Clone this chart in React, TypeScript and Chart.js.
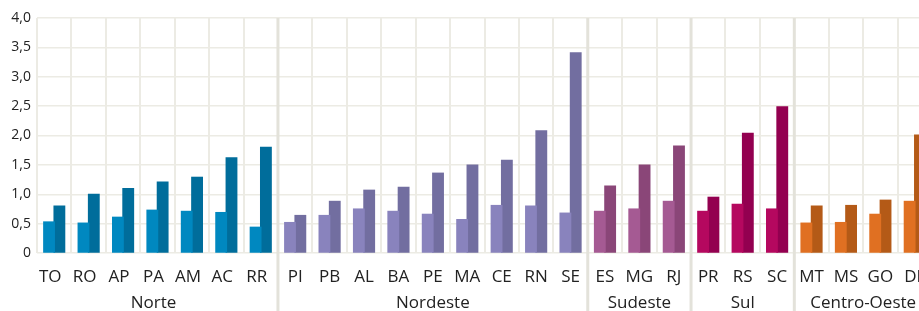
import React, { useEffect, useRef } from "react";
import { Chart, registerables } from "chart.js";

Chart.register(...registerables);

const states = ["TO", "RO", "AP", "PA", "AM", "AC", "RR", "PI", "PB", "AL", "BA", "PE", "MA", "CE", "RN", "SE", "ES", "MG", "RJ", "PR", "RS", "SC", "MT", "MS", "GO", "DF"];
const regions = ["Norte", "Nordeste", "Sudeste", "Sul", "Centro-Oeste"];
const regionSizes = [7, 9, 3, 3, 4];
const seriesA = [0.53, 0.51, 0.61, 0.73, 0.71, 0.69, 0.44, 0.52, 0.64, 0.75, 0.71, 0.66, 0.57, 0.81, 0.8, 0.68, 0.71, 0.75, 0.88, 0.71, 0.83, 0.75, 0.51, 0.52, 0.66, 0.88];
const seriesB = [0.8, 1.0, 1.1, 1.21, 1.29, 1.62, 1.8, 0.64, 0.88, 1.07, 1.12, 1.36, 1.5, 1.58, 2.08, 3.41, 1.14, 1.5, 1.82, 0.95, 2.04, 2.49, 0.8, 0.81, 0.9, 2.01];
const lightColors = ["#0088c0", "#8983bd", "#a55a93", "#b5085f", "#e07022"];
const darkColors = ["#006d9b", "#726ea0", "#8a4678", "#930050", "#b45a17"];
const yTicks = [0, 0.5, 1, 1.5, 2, 2.5, 3, 3.5, 4];
const regionLabelOffsets = [-4, 0, 0, 0, 0];

const regionIndex: number[] = [];
regionSizes.forEach((n, r) => {
  for (let i = 0; i < n; i++) regionIndex.push(r);
});

const FONT = '"Open Sans", "Noto Sans", sans-serif';
const TEXT = "#222222";
const GRID = "#ecebe4";
const SEP = "#e3e2da";

const groupPlugin = {
  id: "groups",
  beforeDatasetsDraw(chart: any) {
    const { ctx, chartArea } = chart;
    const x = chart.scales.x;
    ctx.save();
    ctx.strokeStyle = SEP;
    ctx.lineWidth = 3;
    let idx = 0;
    for (let r = 0; r < regionSizes.length - 1; r++) {
      idx += regionSizes[r];
      const px = (x.getPixelForValue(idx - 1) + x.getPixelForValue(idx)) / 2;
      ctx.beginPath();
      ctx.moveTo(px, chartArea.top);
      ctx.lineTo(px, chart.height);
      ctx.stroke();
    }
    ctx.restore();
  },
  afterDraw(chart: any) {
    const { ctx } = chart;
    const x = chart.scales.x;
    ctx.save();
    ctx.fillStyle = TEXT;
    ctx.textAlign = "center";
    ctx.textBaseline = "alphabetic";
    ctx.font = "17px " + FONT;
    states.forEach((s, i) => {
      ctx.fillText(s, x.getPixelForValue(i) + regionLabelOffsets[regionIndex[i]], 282);
    });
    let start = 0;
    regions.forEach((name, r) => {
      const end = start + regionSizes[r] - 1;
      const cx = (x.getPixelForValue(start) + x.getPixelForValue(end)) / 2 + regionLabelOffsets[r];
      ctx.fillText(name, cx, 308);
      start = end + 1;
    });
    ctx.restore();
  },
};

export default function App() {
  const ref = useRef<HTMLCanvasElement | null>(null);
  useEffect(() => {
    if (!ref.current) return;
    const chart = new Chart(ref.current, {
      type: "bar",
      data: {
        labels: states,
        datasets: [
          {
            label: "Série 1",
            data: seriesA,
            backgroundColor: regionIndex.map((r) => lightColors[r]),
            categoryPercentage: 0.6,
            barPercentage: 1.05,
            inflateAmount: 0.5,
          },
          {
            label: "Série 2",
            data: seriesB,
            backgroundColor: regionIndex.map((r) => darkColors[r]),
            categoryPercentage: 0.6,
            barPercentage: 1.05,
            inflateAmount: 0.5,
          },
        ],
      },
      options: {
        animation: false,
        responsive: false,
        layout: { padding: { top: 18, left: 0, right: 0, bottom: 0 } },
        plugins: { legend: { display: false }, tooltip: { enabled: false } },
        scales: {
          x: {
            grid: { color: GRID, lineWidth: 2, drawTicks: false, offset: true },
            border: { display: false },
            ticks: { display: false },
            afterFit: (s: any) => {
              s.height = 58;
            },
          },
          y: {
            min: 0,
            max: 4,
            grid: { color: GRID, lineWidth: 1.5, drawTicks: false },
            border: { display: false },
            afterBuildTicks: (s: any) => {
              s.ticks = yTicks.map((v) => ({ value: v }));
            },
            ticks: {
              padding: 6,
              color: TEXT,
              font: { family: FONT, size: 14 },
              callback: (v: any) => (Number(v) === 0 ? "0" : Number(v).toFixed(1).replace(".", ",")),
            },
            afterFit: (s: any) => {
              s.width = 37;
            },
          },
        },
      },
      plugins: [groupPlugin],
    });
    return () => chart.destroy();
  }, []);
  return (
    <div style={{ position: "absolute", left: 0, top: 0, width: 919, height: 311, overflow: "hidden", background: "#fff" }}>
      <canvas ref={ref} width={932} height={311} style={{ display: "block" }} />
    </div>
  );
}
